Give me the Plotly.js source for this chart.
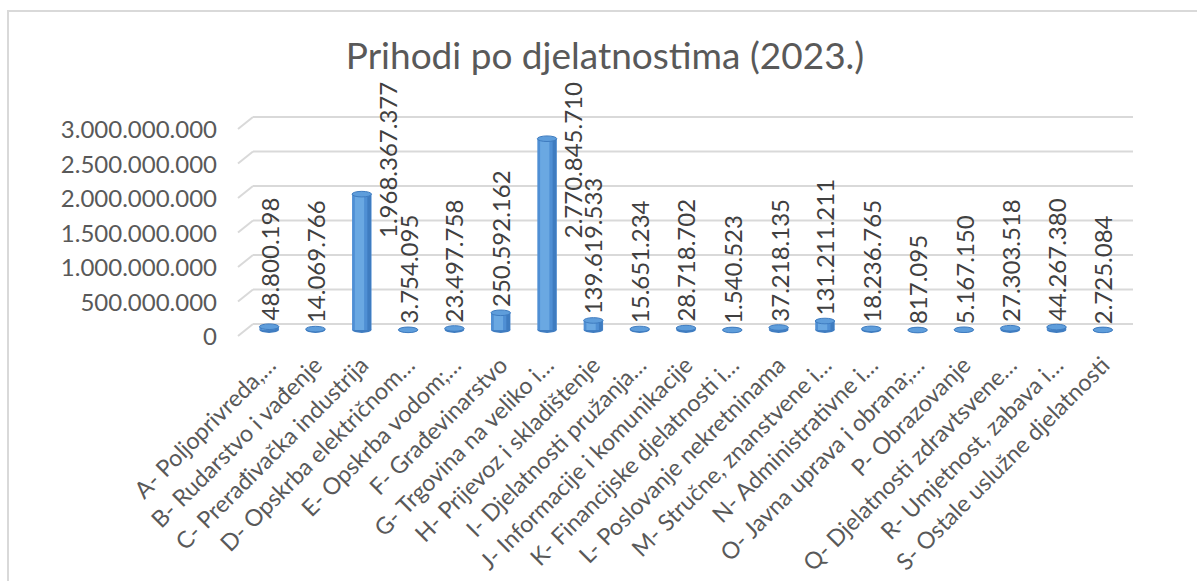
<!DOCTYPE html>
<html>
<head>
<meta charset="utf-8">
<script src="https://cdn.plot.ly/plotly-3.0.1.min.js"></script>
<style>
  html, body { margin: 0; padding: 0; background: #ffffff; overflow: hidden; }
  #frame { position: absolute; left: 7px; top: 10px; width: 1400px; height: 900px;
           border: 2px solid #d9d9d9; box-sizing: border-box; }
  #chart { position: absolute; left: 0; top: 0; width: 1197px; height: 581px; }
</style>
</head>
<body>
<div id="frame"></div>
<div id="chart"></div>
<script>
// ---------- data ----------
const categories = [
  'A- Poljoprivreda,…',
  'B- Rudarstvo i vađenje',
  'C- Prerađivačka industrija',
  'D- Opskrba električnom…',
  'E- Opskrba vodom;…',
  'F- Građevinarstvo',
  'G- Trgovina na veliko i…',
  'H- Prijevoz i skladištenje',
  'I- Djelatnosti pružanja…',
  'J- Informacije i komunikacije',
  'K- Financijske djelatnosti i…',
  'L- Poslovanje nekretninama',
  'M- Stručne, znanstvene i…',
  'N- Administrativne i…',
  'O- Javna uprava i obrana;…',
  'P- Obrazovanje',
  'Q- Djelatnosti zdravtsvene…',
  'R- Umjetnost, zabava i…',
  'S- Ostale uslužne djelatnosti'
];
const revenues = [
  48800198, 14069766, 1968367377, 3754095, 23497758, 250592162,
  2770845710, 139619533, 15651234, 28718702, 1540523, 37218135,
  131211211, 18236765, 817095, 5167150, 27303518, 44267380, 2725084
];
const yTickValues = [0, 500000000, 1000000000, 1500000000, 2000000000, 2500000000, 3000000000];
const yTickLabels = ['0', '500.000.000', '1.000.000.000', '1.500.000.000',
                     '2.000.000.000', '2.500.000.000', '3.000.000.000'];
const chartTitle = 'Prihodi po djelatnostima (2023.)';

// ---------- helpers ----------
function fmt(n) { return String(n).replace(/\B(?=(\d{3})+(?!\d))/g, '.'); }

const W = 1197, H = 581;
const M = { l: 246, r: 71, t: 116, b: 244 };
const plotH = H - M.t - M.b;
const plotW = W - M.l - M.r;
const yMin = -100000000, yMax = 3100000000;
const pxPerUnit = plotH / (yMax - yMin);
const FONT = 'Lato, "Open Sans", sans-serif';
const TXT = '#595959';
const labelSize = 24;

const xIdx = categories.map((c, i) => i);
const barW = 0.42;

// cylinder body made of overlaid bars
const traces = [
  { type: 'bar', x: xIdx, y: revenues, width: barW, marker: { color: '#4f8fd4', line: { width: 0 } },
    hoverinfo: 'skip', showlegend: false },
  { type: 'bar', x: xIdx, y: revenues, width: 0.2, offset: -0.15, marker: { color: '#6aa8e2', line: { width: 0 } },
    hoverinfo: 'skip', showlegend: false },
  { type: 'bar', x: xIdx, y: revenues, width: 0.08, offset: 0.12, marker: { color: '#3f7cc0', line: { width: 0 } },
    hoverinfo: 'skip', showlegend: false }
];

// gridlines (back wall, 3D look)
const shapes = [];
const gridOffPx = 6, diagDx = 15, diagDy = 12;
yTickValues.forEach(t => {
  const py = (t - yMin) / (yMax - yMin) + gridOffPx / plotH;
  shapes.push({ type: 'line', xref: 'paper', yref: 'paper', layer: 'below',
    x0: 7 / plotW, x1: (7 + 880) / plotW, y0: py, y1: py,
    line: { color: '#d9d9d9', width: 2 } });
  shapes.push({ type: 'line', xref: 'paper', yref: 'paper', layer: 'below',
    x0: 7 / plotW - diagDx / plotW, x1: 7 / plotW, y0: py - diagDy / plotH, y1: py,
    line: { color: '#d9d9d9', width: 2 } });
});

// ellipses (bottom + top of each cylinder)
const ellH = 2.8 / pxPerUnit;
revenues.forEach((v, i) => {
  shapes.push({ type: 'circle', xref: 'x', yref: 'y', layer: 'below',
    x0: i - barW / 2, x1: i + barW / 2, y0: -ellH, y1: ellH,
    fillcolor: '#3f7cc0', line: { width: 0 } });
});
revenues.forEach((v, i) => {
  shapes.push({ type: 'circle', xref: 'x', yref: 'y', layer: 'above',
    x0: i - barW / 2, x1: i + barW / 2, y0: v - ellH, y1: v + ellH,
    fillcolor: '#5e9ddb', line: { color: '#3f7cc0', width: 1 } });
});

// value labels (rotated), clamped under the title like the original
const cv = document.createElement('canvas').getContext('2d');
cv.font = labelSize + 'px Lato';
const topLimit = 78;
const annotations = revenues.map((v, i) => {
  const txt = fmt(v);
  const len = cv.measureText(txt).width + 4;
  const pv = M.t + plotH * (1 - (v - yMin) / (yMax - yMin));
  let bottom = pv - 6;
  let xs = 0;
  if (bottom - len < topLimit) { bottom = topLimit + len; xs = 25; }
  return { x: i, y: v, xref: 'x', yref: 'y', text: txt, showarrow: false,
    textangle: -90, xanchor: 'center', yanchor: 'bottom',
    xshift: xs, yshift: pv - bottom - 2,
    font: { family: FONT, size: labelSize, color: '#404040' } };
});

const layout = {
  width: W, height: H,
  margin: M,
  paper_bgcolor: 'rgba(0,0,0,0)',
  plot_bgcolor: 'rgba(0,0,0,0)',
  barmode: 'overlay',
  showlegend: false,
  title: { text: chartTitle, xref: 'container', yref: 'container',
    x: 605 / W, xanchor: 'center', y: 1 - 56 / H, yanchor: 'middle',
    font: { family: FONT, size: 37, color: TXT } },
  xaxis: {
    range: [-0.5, categories.length - 0.5],
    tickmode: 'array', tickvals: xIdx, ticktext: categories,
    tickangle: -45, showgrid: false, zeroline: false, showline: false, ticks: '',
    ticklabelstandoff: 9,
    tickfont: { family: FONT, size: 23.3, color: TXT }
  },
  yaxis: {
    range: [yMin, yMax],
    tickmode: 'array', tickvals: yTickValues, ticktext: yTickLabels,
    showgrid: false, zeroline: false, showline: false, ticks: '',
    ticklabelstandoff: 28, ticklabelshift: 7,
    tickfont: { family: FONT, size: 24, color: TXT }
  },
  shapes: shapes,
  annotations: annotations
};

Plotly.newPlot('chart', traces, layout, { displayModeBar: false, staticPlot: true });
</script>
</body>
</html>
